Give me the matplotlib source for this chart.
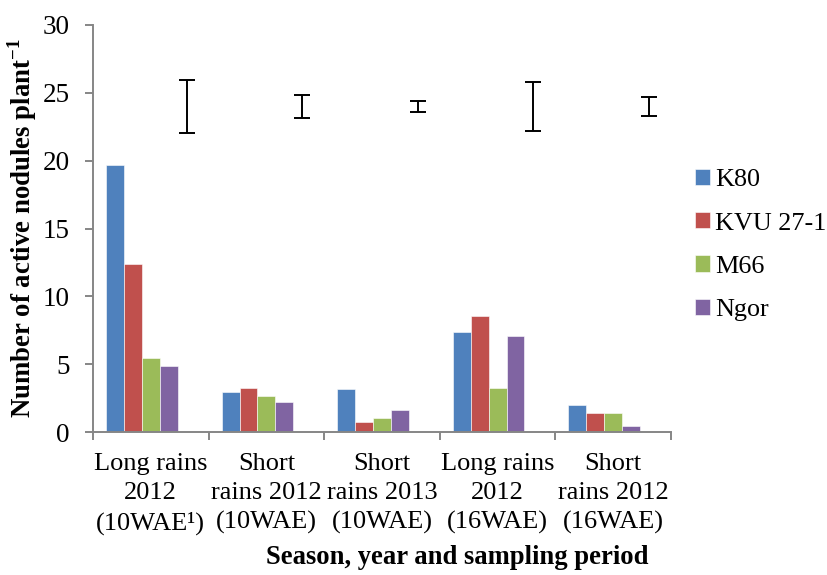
import matplotlib

matplotlib.use("Agg")
import matplotlib.pyplot as plt
import numpy as np

plt.rcParams["font.family"] = ["Liberation Serif", "DejaVu Serif"]
plt.rcParams["mathtext.fontset"] = "custom"
plt.rcParams["mathtext.rm"] = "Liberation Serif"
plt.rcParams["mathtext.bf"] = "Liberation Serif:bold"

# --- данные ---
seasons = [
    "Long rains\n2012\n(10WAE\u00b9)",
    "Short\nrains 2012\n(10WAE)",
    "Short\nrains 2013\n(10WAE)",
    "Long rains\n2012\n(16WAE)",
    "Short\nrains 2012\n(16WAE)",
]
varieties = ["K80", "KVU 27-1", "M66", "Ngor"]
k80 = [19.65, 2.95, 3.17, 7.35, 1.99]
kvu = [12.36, 3.27, 0.71, 8.57, 1.40]
m66 = [5.43, 2.68, 1.03, 3.27, 1.42]
ngor = [4.86, 2.21, 1.64, 7.05, 0.42]
lsd_level = [24.0, 24.0, 24.0, 24.0, 24.0]
lsd_half = [1.93, 0.83, 0.41, 1.80, 0.71]

colors = ["#4F81BD", "#C0504D", "#9BBB59", "#8064A2"]
AX_GREY = "#868686"
SERIF = ["Liberation Serif", "DejaVu Serif"]

fig = plt.figure(figsize=(8.28, 5.75), dpi=100)
ax = fig.add_axes([93 / 828, 1 - 432 / 575, (671 - 93) / 828, (432 - 25) / 575])

x = np.arange(len(seasons))
w = 0.155
for i, (vals, name) in enumerate(zip([k80, kvu, m66, ngor], varieties)):
    ax.bar(x + (i - 2) * w, vals, w, color=colors[i], label=name,
           edgecolor="white", linewidth=0.4)

# LSD-столбики как пятая (невидимая) серия
ax.errorbar(x + 2 * w, lsd_level, yerr=lsd_half, fmt="none", ecolor="black",
            elinewidth=1.4, capsize=5.5, capthick=1.4)

ax.set_xlim(-0.5, 4.5)
ax.set_ylim(0, 30)
ax.set_yticks(range(0, 31, 5))
ax.set_yticklabels([str(v) for v in range(0, 31, 5)], family=SERIF, fontsize=19.5)
ax.set_xticks(x)
ax.set_xticklabels(seasons, family=SERIF, fontsize=19)
for lab in ax.get_xticklabels():
    lab.set_linespacing(1.42)
ax.set_xticks(np.arange(-0.5, 5, 1), minor=True)
ax.tick_params(axis="x", which="major", length=0, pad=15)
ax.tick_params(axis="x", which="minor", length=6, width=1.4, color=AX_GREY, direction="out")
ax.tick_params(axis="y", length=6, width=1.4, color=AX_GREY, pad=11)
for s in ("top", "right"):
    ax.spines[s].set_visible(False)
for s in ("left", "bottom"):
    ax.spines[s].set_color(AX_GREY)
    ax.spines[s].set_linewidth(1.4)

fig.text(22 / 828, 1 - 228 / 575, r"Number of active nodules plant$^{\mathbf{-1}}$",
         rotation=90, ha="center", va="center", fontsize=19.3, fontweight="bold",
         family=SERIF)
fig.text(457 / 828, 1 - 558 / 575, "Season, year and sampling period",
         ha="center", va="center", fontsize=19.2, fontweight="bold", family=SERIF)

fig.legend(loc="center left", bbox_to_anchor=(695 / 828, 1 - 245 / 575),
           frameon=False, prop={"family": SERIF, "size": 18.8},
           handlelength=0.57, handleheight=0.57,
           handletextpad=0.2, labelspacing=0.8, borderaxespad=0, borderpad=0)

fig.savefig("out.png", dpi=100)
